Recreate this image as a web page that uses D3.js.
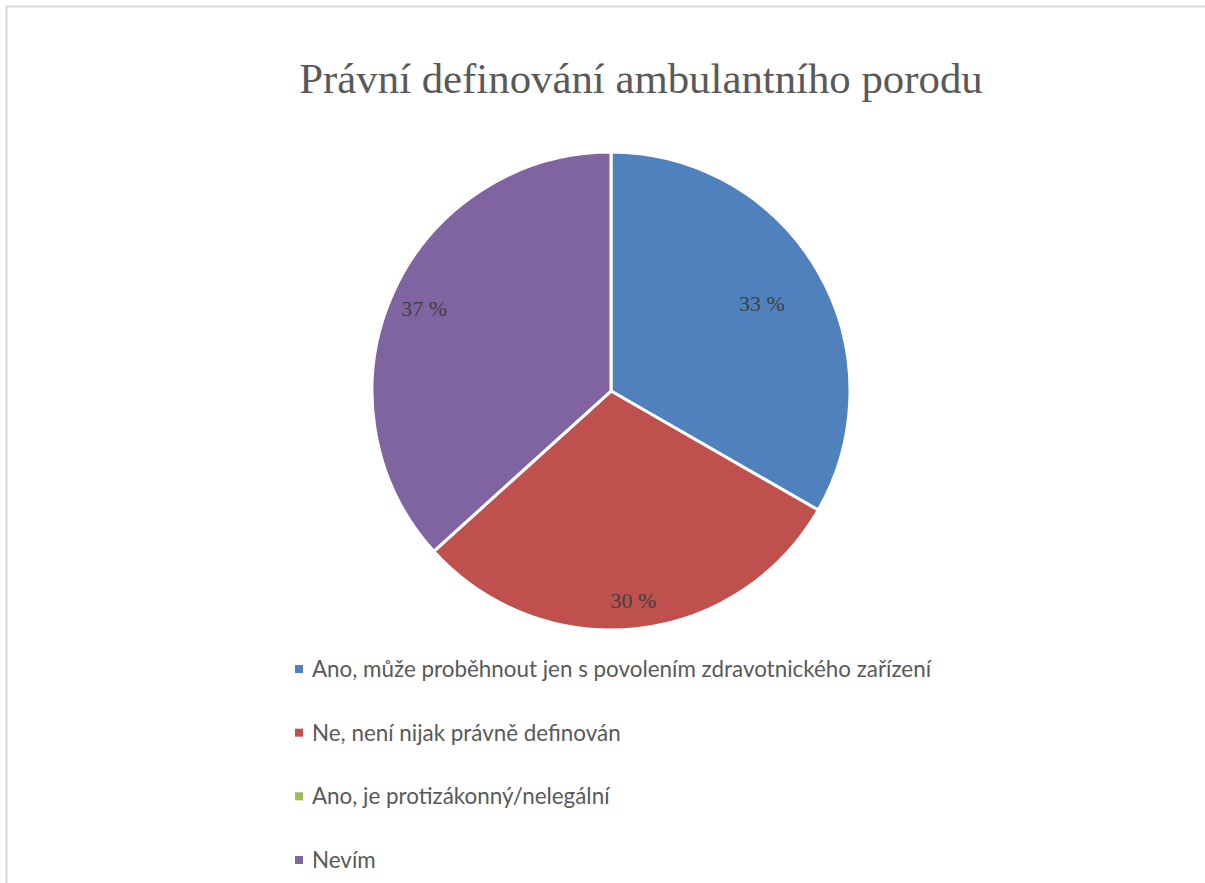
<!DOCTYPE html>
<html><head><meta charset="utf-8">
<script src="https://cdn.jsdelivr.net/npm/d3@7"></script>
<style>body{margin:0;background:#fff}svg{display:block}</style>
</head><body>
<svg id="c" width="1205" height="883"></svg>
<script>
const title = "Právní definování ambulantního porodu";
const categories = ["Ano, může proběhnout jen s povolením zdravotnického zařízení","Ne, není nijak právně definován","Ano, je protizákonný/nelegální","Nevím"];
const values = [33.3, 30.0, 0, 36.7];
const labels = ["33 %","30 %","0 %","37 %"];
const colors = ["#4f81bd","#c0504d","#9bbb59","#8064a2"];

const svg = d3.select("#c");
svg.append("path").attr("d","M6.5,883 V6.5 H1205").attr("fill","none").attr("stroke","#d9d9d9").attr("stroke-width",2);

svg.append("text").attr("x",641).attr("y",93).attr("text-anchor","middle")
  .attr("font-family","Liberation Serif, Times New Roman, serif").attr("font-size",42.8).attr("fill","#595959").text(title);

const cx=611, cy=391, r=239;
const labelR = [0.73, 0.88, 0.8, 0.855]; // label placement radius factors (layout)
const pie = d3.pie().sort(null).value(d=>d)(values);
const arc = d3.arc().innerRadius(0).outerRadius(r);
const g = svg.append("g").attr("transform",`translate(${cx},${cy})`);
g.selectAll("path").data(pie).join("path").attr("d",arc).attr("fill",(d,i)=>colors[i]).attr("stroke","#fff").attr("stroke-width",3);
g.selectAll("text").data(pie.filter(d=>d.value>0)).join("text")
  .attr("transform",d=>{const a=d3.arc().innerRadius(r*labelR[d.index]).outerRadius(r*labelR[d.index]);return `translate(${a.centroid(d)})`;})
  .attr("text-anchor","middle").attr("dy","0.35em")
  .attr("font-family","Liberation Serif, Times New Roman, serif").attr("font-size",22).attr("fill","#404040")
  .text(d=>labels[d.index]);

const y = d3.scalePoint().domain(categories).range([669,860]);
const lg = svg.append("g");
categories.forEach((c,i)=>{
  lg.append("rect").attr("x",295).attr("y",y(c)-4).attr("width",8).attr("height",8).attr("fill",colors[i]);
  lg.append("text").attr("x",312).attr("y",y(c)).attr("dy","0.35em").attr("font-family","Lato, sans-serif").attr("font-size",22.4).attr("fill","#595959").text(c);
});
</script>
</body></html>
